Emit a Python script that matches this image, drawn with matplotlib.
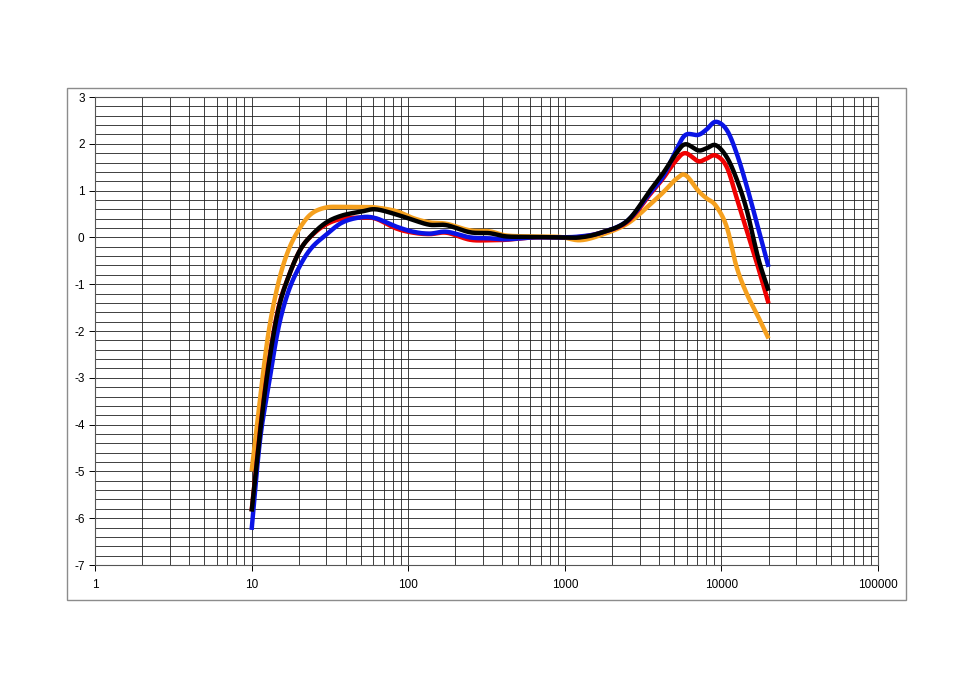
import numpy as np
import matplotlib
matplotlib.use("Agg")
import matplotlib.pyplot as plt
from matplotlib.ticker import LogLocator, FixedLocator, NullFormatter, FixedFormatter
from matplotlib.patches import Rectangle

plt.rcParams['font.family'] = ['Liberation Sans', 'DejaVu Sans']

freq = [10, 11.3, 12.8, 14.8, 17.2, 20.4, 24.2, 30, 38, 50, 62, 84, 108, 137, 176,
        248, 331, 425, 630, 930, 1250, 1700, 2500, 3500, 4240, 5150, 5900, 7100,
        8000, 9200, 10800, 12500, 14500, 17200, 20000]

orange = [-5.0, -3.47, -2.05, -0.98, -0.27, 0.21, 0.51, 0.64, 0.65, 0.65, 0.64, 0.56,
          0.41, 0.32, 0.29, 0.15, 0.13, 0.04, 0.02, 0.01, -0.06, 0.05, 0.29, 0.70,
          0.96, 1.25, 1.33, 1.0, 0.84, 0.68, 0.23, -0.63, -1.2, -1.7, -2.16]
black = [-5.86, -4.19, -2.76, -1.55, -0.84, -0.27, 0.05, 0.32, 0.47, 0.55, 0.60, 0.49,
         0.37, 0.27, 0.26, 0.11, 0.09, 0.02, 0.01, 0.0, 0.0, 0.10, 0.35, 1.0,
         1.37, 1.80, 1.99, 1.86, 1.90, 1.97, 1.72, 1.25, 0.59, -0.45, -1.14]
red = [-5.85, -4.15, -2.72, -1.52, -0.84, -0.27, 0.04, 0.28, 0.40, 0.42, 0.40, 0.19,
       0.10, 0.07, 0.10, -0.05, -0.06, -0.05, 0.0, 0.0, 0.01, 0.10, 0.33, 0.92,
       1.26, 1.65, 1.80, 1.63, 1.68, 1.75, 1.51, 0.85, 0.15, -0.65, -1.41]
blue = [-6.25, -4.35, -3.2, -1.95, -1.15, -0.6, -0.22, 0.06, 0.32, 0.43, 0.41, 0.23,
        0.12, 0.08, 0.12, 0.0, -0.02, -0.04, 0.0, 0.0, 0.02, 0.10, 0.35, 0.95,
        1.30, 1.87, 2.19, 2.19, 2.30, 2.47, 2.30, 1.80, 1.10, 0.19, -0.63]

series = [(orange, '#F5A01E'), (red, '#F00000'), (blue, '#0A14E6'), (black, '#000000')]

y_ticks = [3, 2, 1, 0, -1, -2, -3, -4, -5, -6, -7]
x_ticks = [1, 10, 100, 1000, 10000, 100000]
x_labels = ['1', '10', '100', '1000', '10000', '100000']


def smooth(xs, ys, n=20):
    # Catmull-Rom rendering of a smoothed line (in log-x space)
    x = np.log10(np.asarray(xs, float))
    y = np.asarray(ys, float)
    px = np.concatenate([[2 * x[0] - x[1]], x, [2 * x[-1] - x[-2]]])
    py = np.concatenate([[2 * y[0] - y[1]], y, [2 * y[-1] - y[-2]]])
    ox, oy = [], []
    t = np.linspace(0, 1, n, endpoint=False)
    for i in range(1, len(px) - 2):
        p0, p1, p2, p3 = px[i - 1], px[i], px[i + 1], px[i + 2]
        q0, q1, q2, q3 = py[i - 1], py[i], py[i + 1], py[i + 2]
        for P, out in (((p0, p1, p2, p3), ox), ((q0, q1, q2, q3), oy)):
            a0, a1, a2, a3 = P
            out.extend(0.5 * ((2 * a1) + (-a0 + a2) * t + (2 * a0 - 5 * a1 + 4 * a2 - a3) * t ** 2
                              + (-a0 + 3 * a1 - 3 * a2 + a3) * t ** 3))
    ox.append(x[-1]); oy.append(y[-1])
    return 10 ** np.array(ox), np.array(oy)


fig = plt.figure(figsize=(9.75, 6.89), dpi=100)
fig.patches.append(Rectangle((67 / 975, 1 - 600 / 689), (906 - 67) / 975, (600 - 88) / 689,
                             transform=fig.transFigure, fill=False, edgecolor='#8c8c8c', lw=1.0))
ax = fig.add_axes([95 / 975, 1 - 565 / 689, (878 - 95) / 975, (565 - 97) / 689])
ax.set_xscale('log')
ax.set_xlim(1, 100000)
ax.set_ylim(-7, 3)

ax.xaxis.set_major_locator(FixedLocator(x_ticks))
ax.xaxis.set_major_formatter(FixedFormatter(x_labels))
ax.xaxis.set_minor_locator(LogLocator(base=10, subs=np.arange(2, 10), numticks=100))
ax.xaxis.set_minor_formatter(NullFormatter())
ax.yaxis.set_major_locator(FixedLocator(y_ticks))
ax.set_yticklabels([str(v) for v in y_ticks])
ax.yaxis.set_minor_locator(FixedLocator(np.round(np.arange(-7, 3.01, 0.2), 2)))

ax.grid(True, which='both', axis='both', color='#202020', lw=0.6)
ax.tick_params(which='major', direction='out', length=4, width=0.7, labelsize=8.5, colors='#000000')
ax.tick_params(which='minor', length=0)
ax.tick_params(axis='x', pad=6)
for s in ax.spines.values():
    s.set_color('#555555')
    s.set_linewidth(0.8)
ax.set_axisbelow(True)

for vals, col in series:
    sx, sy = smooth(freq, vals)
    ax.plot(sx, sy, color=col, lw=3.2, solid_capstyle='butt', zorder=3)

fig.savefig('out.png', dpi=100)
